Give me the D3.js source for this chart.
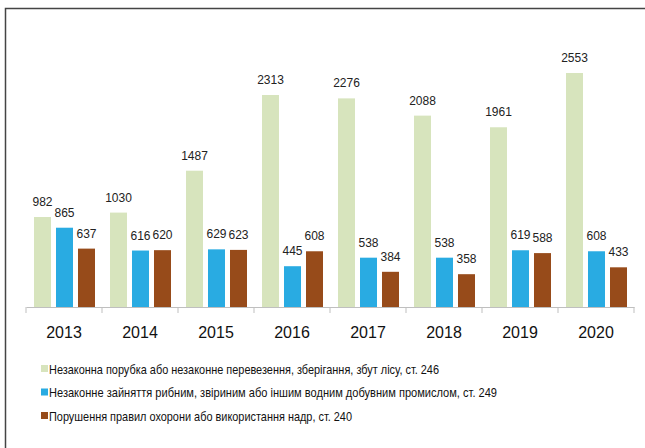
<!DOCTYPE html>
<meta charset="utf-8">
<style>
  body { margin: 0; background: #fff; }
  svg { display: block; }
</style>
<svg width="645" height="448"></svg>

<script src="https://d3js.org/d3.v7.min.js"></script>
<script>

// data
var years = ["2013", "2014", "2015", "2016", "2017", "2018", "2019", "2020"]
var forest = [982, 1030, 1487, 2313, 2276, 2088, 1961, 2553]
var fishing = [865, 616, 629, 445, 538, 538, 619, 608]
var subsoil = [637, 620, 623, 608, 384, 358, 588, 433]
var seriesNames = [
  "Незаконна порубка або незаконне перевезення, зберігання, збут лісу, ст. 246",
  "Незаконне зайняття рибним, звіриним або іншим водним  добувним промислом, ст. 249",
  "Порушення правил охорони або використання надр, ст. 240"
]
var colors = ["#d7e4bd", "#29abe2", "#974b1a"]

var series = [forest, fishing, subsoil]

var svg = d3.select("svg")

// frame round the chart area
svg.append("path")
    .attr("d", "M5.5,448 V8.5 H645")
    .attr("fill", "none")
    .attr("stroke", "#444")
    .attr("stroke-width", 1.5)

var x = d3.scaleBand().domain(years).range([26, 634])
var xs = d3.scaleBand().domain([0, 1, 2]).range([8, 69]).paddingInner(0.227)
var y = d3.scaleLinear().domain([0, 2553]).range([307, 73])

var groups = svg.selectAll("g.year")
  .data(years)
  .enter().append("g")
    .attr("class", "year")
    .attr("transform", function(d) { return "translate(" + x(d) + ",0)" })

groups.selectAll("rect")
  .data(function(d, i) { return series.map(function(s, k) { return { k: k, v: s[i] } }) })
  .enter().append("rect")
    .attr("x", function(d) { return xs(d.k) })
    .attr("width", xs.bandwidth())
    .attr("y", function(d) { return y(d.v) })
    .attr("height", function(d) { return y(0) - y(d.v) })
    .attr("fill", function(d) { return colors[d.k] })

groups.selectAll("text")
  .data(function(d, i) { return series.map(function(s, k) { return { k: k, v: s[i] } }) })
  .enter().append("text")
    .attr("x", function(d) { return xs(d.k) + xs.bandwidth() / 2 })
    .attr("y", function(d) { return y(d.v) - 11 })
    .attr("text-anchor", "middle")
    .style("font-family", "'Liberation Sans', Arial, sans-serif")
    .style("font-size", "12px")
    .style("fill", "#222")
    .text(function(d) { return d.v })

// x axis
var axis = svg.append("g")
    .attr("transform", "translate(0,307)")
    .call(d3.axisBottom(x).tickSize(0).tickSizeOuter(0).tickPadding(20))
axis.select(".domain").attr("stroke", "#bfbfbf")
axis.selectAll("text")
    .style("font-family", "'Liberation Sans', Arial, sans-serif")
    .style("font-size", "16px")
    .style("fill", "#111")
axis.selectAll(".sep")
  .data(years.concat(["end"]))
  .enter().append("line")
    .attr("class", "sep")
    .attr("x1", function(d, i) { return 26 + i * x.step() })
    .attr("x2", function(d, i) { return 26 + i * x.step() })
    .attr("y1", 0).attr("y2", 6)
    .attr("stroke", "#bfbfbf")

// legend (text squeezed to the narrow face of the original)
var legendWidths = [390, 448, 303]
var legend = svg.selectAll("g.legend")
  .data(seriesNames)
  .enter().append("g")
    .attr("class", "legend")
    .attr("transform", function(d, i) { return "translate(41," + (369 + i * 23.5) + ")" })

legend.append("rect")
    .attr("x", 0).attr("y", -4)
    .attr("width", 7).attr("height", 7)
    .attr("fill", function(d, i) { return colors[i] })

legend.append("text")
    .attr("x", 8)
    .attr("y", 4.5)
    .attr("textLength", function(d, i) { return legendWidths[i] })
    .attr("lengthAdjust", "spacingAndGlyphs")
    .style("font-family", "'Liberation Sans', Arial, sans-serif")
    .style("font-size", "13.5px")
    .style("fill", "#111")
    .text(function(d) { return d })

</script>
